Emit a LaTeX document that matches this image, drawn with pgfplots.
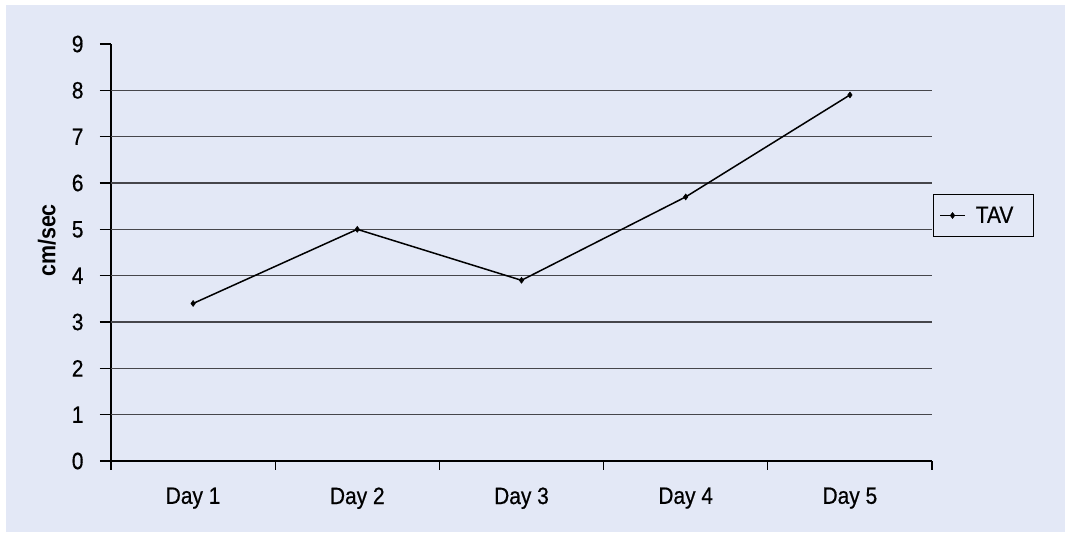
\documentclass[border=0pt]{standalone}
\usepackage{fontspec}
\setmainfont{Liberation Sans}
\newfontfamily\lbl{Liberation Sans}[FakeBold=0.6]
\usepackage{graphicx}
\usepackage{pgfplots}
\pgfplotsset{compat=1.18}
\definecolor{bgblue}{RGB}{227,232,246}
\definecolor{gridgray}{RGB}{70,70,75}
% labels are set slightly tall
\newcommand{\tall}[1]{\scalebox{1}[1.13]{#1}}
\begin{document}
\begin{tikzpicture}[x=1bp,y=1bp]
% page background with thin white margin
\fill[white] (-111,-73) rectangle (954,461);
\fill[bgblue] (-105,-71) rectangle (954,456);
\useasboundingbox (-111,-73) rectangle (954,461);
\begin{axis}[
  scale only axis, width=821bp, height=417bp,
  at={(0,0)}, anchor=south west,
  xmin=0.5, xmax=5.5, ymin=0, ymax=9,
  axis x line*=bottom, axis y line*=left,
  axis line style={black, line width=1.2bp},
  tick align=outside,
  xtick={1,2,3,4,5},
  xticklabels={\tall{Day 1},\tall{Day 2},\tall{Day 3},\tall{Day 4},\tall{Day 5}},
  minor xtick={0.5,1.5,2.5,3.5,4.5,5.5},
  major x tick style={draw=none},
  minor x tick style={black, line width=1.2bp},
  minor tick length=9bp,
  ytick={0,...,9},
  yticklabel={\tall{\pgfmathprintnumber{\tick}}},
  major y tick style={black, line width=1.2bp},
  major tick length=11bp,
  extra y ticks={1,...,8},
  extra y tick labels={},
  extra y tick style={ymajorgrids=true},
  major grid style={gridgray, line width=1.3bp},
  tick label style={font=\lbl\fontsize{21}{25}\selectfont, text=black},
  yticklabel style={xshift=-13bp},
  xticklabel style={yshift=-12bp},
  /pgf/number format/assume math mode=true,
  ylabel={\tall{\textbf{cm/sec}}},
  ylabel style={font=\fontsize{21.5}{25}\selectfont, at={(rel axis cs:-0.078,0.529)}, anchor=center},
  legend style={at={(rel axis cs:1.001,0.641)}, anchor=north west,
    draw=black, line width=0.9bp, fill=bgblue,
    font=\lbl\fontsize{21}{25}\selectfont, inner xsep=6bp, inner ysep=10.5bp,
    /tikz/every even column/.append style={column sep=0bp}},
  legend image code/.code={%
    \draw[mark repeat=2,mark phase=2,#1] plot coordinates {(0bp,0bp)(12.5bp,0bp)(25bp,0bp)};},
  legend cell align=left,
]
\addplot[black, line width=1.5bp, mark=diamond*, mark size=3bp, mark options={line width=0.5bp}]
  coordinates {(1,3.4) (2,5.0) (3,3.9) (4,5.7) (5,7.9)};
\addlegendentry{\rule{8bp}{0pt}\tall{TAV}\rule{12bp}{0pt}}
\end{axis}
\end{tikzpicture}
\end{document}
